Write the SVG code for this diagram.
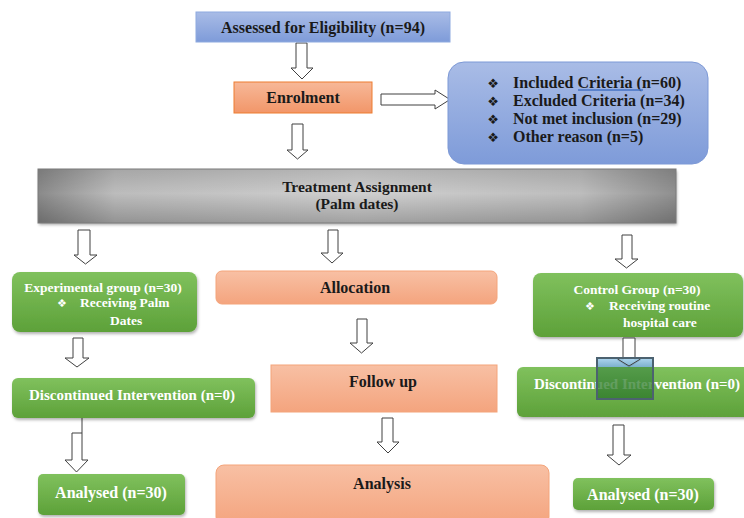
<svg xmlns="http://www.w3.org/2000/svg" width="744" height="518" viewBox="0 0 744 518">
<defs>
<linearGradient id="gBlue" x1="0" y1="0" x2="0" y2="1"><stop offset="0" stop-color="#a9bce6"/><stop offset="1" stop-color="#7e9bd9"/></linearGradient>
<linearGradient id="gOrange" x1="0" y1="0" x2="0" y2="1"><stop offset="0" stop-color="#f7b898"/><stop offset="1" stop-color="#f29669"/></linearGradient>
<linearGradient id="gSalmon" x1="0" y1="0" x2="0" y2="1"><stop offset="0" stop-color="#f8c0a4"/><stop offset="1" stop-color="#f4a47e"/></linearGradient>
<linearGradient id="gGreen" x1="0" y1="0" x2="0" y2="1"><stop offset="0" stop-color="#80c15d"/><stop offset="1" stop-color="#5da139"/></linearGradient>
<linearGradient id="gGrayH" x1="0" y1="0" x2="1" y2="0"><stop offset="0" stop-color="#8a8a8a"/><stop offset="0.12" stop-color="#bcbcbc"/><stop offset="0.5" stop-color="#cfcfcf"/><stop offset="0.85" stop-color="#bdbdbd"/><stop offset="1" stop-color="#8f8f8f"/></linearGradient>
<linearGradient id="gGrayV" x1="0" y1="0" x2="0" y2="1"><stop offset="0" stop-color="#000" stop-opacity="0.12"/><stop offset="0.45" stop-color="#000" stop-opacity="0"/><stop offset="1" stop-color="#000" stop-opacity="0.22"/></linearGradient>
<linearGradient id="gOverTop" x1="0" y1="0" x2="0" y2="1"><stop offset="0" stop-color="#a6d2ee"/><stop offset="1" stop-color="#6fa8c8"/></linearGradient>
<linearGradient id="gOverG" x1="0" y1="0" x2="0" y2="1"><stop offset="0" stop-color="#4a9346"/><stop offset="1" stop-color="#2f7a2c"/></linearGradient>
<filter id="sh" x="-10%" y="-20%" width="120%" height="150%"><feDropShadow dx="1" dy="2" stdDeviation="1.5" flood-color="#000" flood-opacity="0.3"/></filter>
</defs>
<style>
.t{font-family:"Liberation Serif","Times New Roman","DejaVu Serif",serif;font-weight:bold;text-anchor:middle}
.s{text-anchor:start}
.dk{fill:#1a1a1a}
.wh{fill:#ffffff}
.bul{font-family:"DejaVu Sans",sans-serif;font-weight:normal}
.arr{fill:#ffffff;stroke:#404040;stroke-width:1}
.green{fill:url(#gGreen);filter:url(#sh)}
.salmon{fill:url(#gSalmon);stroke:#f4a47a;stroke-width:1}
</style>
<rect width="744" height="518" fill="#ffffff"/>

<g id="connectors">
<path class="arr" d="M296,43H307V68H313L302,79L291,68H296Z"/>
<path class="arr" d="M381,94H435V90L450,99.5L435,109V105H381Z"/>
<path class="arr" d="M292,124H303V150H308L297.5,159L287,150H292Z"/>
<path class="arr" d="M78,230H90V255H97L85.5,264L74,255H78Z"/>
<path class="arr" d="M328,230H338V253H343L332,263L321,253H328Z"/>
<path class="arr" d="M622,235H632V259H638L626.5,268L615,259H622Z"/>
<path class="arr" d="M73,338H83V358H89L77,367L65,358H73Z"/>
<path class="arr" d="M72,433H82V460H88L76.5,472L65,460H72Z"/>
<line x1="82" y1="418" x2="82" y2="433" stroke="#404040" stroke-width="1"/>
<path class="arr" d="M357,319H367V343H373L361.5,353L350,343H357Z"/>
<path class="arr" d="M382,418H393V442H399L388,453L377,442H382Z"/>
<path class="arr" d="M613,425H624V455H631L619,465L607,455H613Z"/>
</g>

<g id="assessed">
<rect x="196" y="12" width="254" height="30" fill="url(#gBlue)" stroke="#8eaadf" stroke-width="1"/>
<text class="t dk" x="323" y="33" font-size="16">Assessed for Eligibility (n=94)</text>
</g>

<g id="enrolment">
<rect x="234" y="82" width="138" height="31" fill="url(#gOrange)" stroke="#ed7d31" stroke-width="1"/>
<text class="t dk" x="303" y="103" font-size="16">Enrolment</text>
</g>

<g id="criteria">
<rect x="448" y="62" width="260" height="102" rx="16" fill="url(#gBlue)" stroke="#7d99d6" stroke-width="1"/>
<g font-size="16" class="dk">
<text class="t" x="493" y="88"><tspan class="bul" font-size="13">❖</tspan></text>
<text class="t s" x="513" y="88">Included Criteria  (n=60)</text>
<text class="t" x="493" y="106"><tspan class="bul" font-size="13">❖</tspan></text>
<text class="t s" x="513" y="106">Excluded Criteria (n=34)</text>
<text class="t" x="493" y="124"><tspan class="bul" font-size="13">❖</tspan></text>
<text class="t s" x="513" y="124">Not met inclusion (n=29)</text>
<text class="t" x="493" y="142"><tspan class="bul" font-size="13">❖</tspan></text>
<text class="t s" x="513" y="142">Other reason (n=5)</text>
</g>
<line x1="578" y1="90" x2="643" y2="90" stroke="#4472c4" stroke-width="1.5"/>
</g>

<g id="treatment">
<rect x="38" y="169" width="638" height="54" fill="url(#gGrayH)" filter="url(#sh)"/>
<rect x="38" y="169" width="638" height="54" fill="url(#gGrayV)" stroke="#7a7a7a" stroke-width="1"/>
<text class="t dk" x="357" y="192" font-size="15.5">Treatment Assignment</text>
<text class="t dk" x="357" y="209" font-size="15.5">(Palm dates)</text>
</g>

<g id="experimental">
<rect class="green" x="12" y="272" width="185" height="60" rx="8"/>
<text class="t wh" x="103" y="292" font-size="13.5">Experimental group (n=30)</text>
<text class="t wh" x="62" y="307" font-size="13.5"><tspan class="bul" font-size="11">❖</tspan></text>
<text class="t wh s" x="80" y="307" font-size="13.5">Receiving Palm</text>
<text class="t wh s" x="110" y="325" font-size="13.5">Dates</text>
</g>

<g id="allocation">
<rect class="salmon" x="216" y="271" width="281" height="33" rx="6"/>
<text class="t dk" x="355" y="293" font-size="16">Allocation</text>
</g>

<g id="control">
<rect class="green" x="533" y="273" width="210" height="64" rx="8"/>
<text class="t wh" x="637" y="294" font-size="13.5">Control Group (n=30)</text>
<text class="t wh" x="590" y="310" font-size="13.5"><tspan class="bul" font-size="11">❖</tspan></text>
<text class="t wh s" x="609" y="310" font-size="13.5">Receiving routine</text>
<text class="t wh s" x="623" y="327" font-size="13.5">hospital care</text>
</g>

<g id="discontinued-left">
<rect class="green" x="12" y="378" width="243" height="40" rx="6"/>
<text class="t wh" x="132" y="400" font-size="15">Discontinued  Intervention (n=0)</text>
</g>

<g id="followup">
<rect class="salmon" x="271" y="365" width="226" height="47"/>
<text class="t dk" x="383" y="387" font-size="16">Follow up</text>
</g>

<g id="discontinued-right">
<rect class="green" x="517" y="367" width="240" height="50" rx="6"/>
<text class="t wh" x="637" y="389" font-size="15">Discontinued Intervention (n=0)</text>
</g>

<g id="overlay">
<path class="arr" d="M623,338H635V360H640.5L629,367L617.5,360H623Z"/>
<rect x="597" y="358" width="56" height="9" fill="url(#gOverTop)" fill-opacity="0.9"/>
<rect x="597" y="367" width="56" height="32" fill="url(#gOverG)" fill-opacity="0.8"/>
<path d="M617.5,359L629,366L640.5,359" fill="none" stroke="#404040" stroke-width="1"/>
<rect x="597" y="358" width="56" height="41" fill="none" stroke="#4c6270" stroke-width="2"/>
</g>

<g id="analysed-left">
<rect class="green" x="38" y="474" width="147" height="41" rx="5"/>
<text class="t wh" x="111" y="498" font-size="16">Analysed (n=30)</text>
</g>

<g id="analysis">
<rect class="salmon" x="216" y="465" width="333" height="60" rx="8"/>
<text class="t dk" x="382" y="489" font-size="16">Analysis</text>
</g>

<g id="analysed-right">
<rect class="green" x="573" y="478" width="141" height="32" rx="5"/>
<text class="t wh" x="643" y="500" font-size="16">Analysed (n=30)</text>
</g>
</svg>
